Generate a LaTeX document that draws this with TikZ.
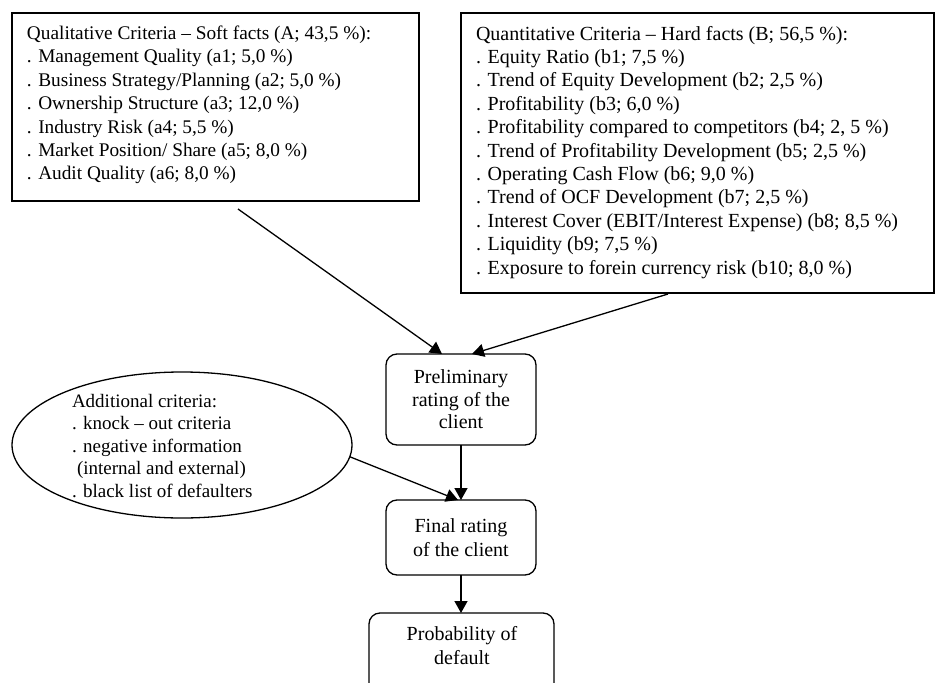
\documentclass[tikz,border=0pt]{standalone}
\usepackage{fontspec}
\setmainfont{Liberation Serif}
\usetikzlibrary{shapes.geometric,arrows.meta}
\begin{document}
\begin{tikzpicture}[x=1pt,y=-1pt,
  every node/.style={inner sep=0pt,outer sep=0pt},
  box/.style={draw,line width=1.4pt,rectangle,anchor=north west},
  rbox/.style={draw,line width=1.3pt,rectangle,rounded corners=11pt,align=center},
  txt/.style={anchor=north west,align=left},
  arr/.style={line width=1.3pt,-{Triangle[length=12pt,width=13pt]}}]
\useasboundingbox (0,0) rectangle (938,683);
% boxes
\node[box,minimum width=407pt,minimum height=188pt] (boxA) at (12,13) {};
\node[txt,font=\fontsize{19.3}{23.4}\selectfont] (tA) at (27,26) {Qualitative Criteria – Soft facts (A; 43,5 \%):\\
. Management Quality (a1; 5,0 \%)\\
. Business Strategy/Planning (a2; 5,0 \%)\\
. Ownership Structure (a3; 12,0 \%)\\
. Industry Risk (a4; 5,5 \%)\\
. Market Position/ Share (a5; 8,0 \%)\\
. Audit Quality (a6; 8,0 \%)};
\node[box,minimum width=473pt,minimum height=280pt] (boxB) at (461,13) {};
\node[txt,font=\fontsize{20}{23.4}\selectfont] (tB) at (476,26) {Quantitative Criteria – Hard facts (B; 56,5 \%):\\
. Equity Ratio (b1; 7,5 \%)\\
. Trend of Equity Development (b2; 2,5 \%)\\
. Profitability (b3; 6,0 \%)\\
. Profitability compared to competitors (b4; 2, 5 \%)\\
. Trend of Profitability Development (b5; 2,5 \%)\\
. Operating Cash Flow (b6; 9,0 \%)\\
. Trend of OCF Development (b7; 2,5 \%)\\
. Interest Cover (EBIT/Interest Expense) (b8; 8,5 \%)\\
. Liquidity (b9; 7,5 \%)\\
. Exposure to forein currency risk (b10; 8,0 \%)};
% flow nodes
\node[rbox,minimum width=150pt,minimum height=91pt,font=\fontsize{20}{22.5}\selectfont] (prelim) at (461,399.5) {Preliminary\\rating of the\\client};
\node[rbox,minimum width=150pt,minimum height=75pt,font=\fontsize{20}{23.5}\selectfont] (final) at (461,537.5) {Final rating\\of the client};
\node[draw,line width=1.3pt,rectangle,rounded corners=11pt,minimum width=185pt,minimum height=82pt,anchor=north west] (prob) at (369,613) {};
\node[align=center,font=\fontsize{20}{24}\selectfont,anchor=north] (tP) at (462,626) {Probability of\\default};
% ellipse
\node[draw,line width=1.3pt,ellipse,minimum width=340pt,minimum height=146pt] (ell) at (182,445) {};
\node[txt,font=\fontsize{19}{22.5}\selectfont] (tE) at (72,394) {Additional criteria:\\
. knock – out criteria\\
. negative information\\
\hspace*{5pt}(internal and external)\\
. black list of defaulters};
% connectors
\coordinate (sA) at (238,209);
\coordinate (sB) at (668,294);
\draw[arr] (sA) -- ([xshift=-19pt]prelim.north);
\draw[arr] (sB) -- ([xshift=11pt]prelim.north);
\draw[arr] (prelim) -- (final);
\draw[arr] (final.south) -- (final.south |- prob.north);
\draw[arr] (ell.-4.5) -- ([xshift=-3pt]final.north);
\end{tikzpicture}
\end{document}
